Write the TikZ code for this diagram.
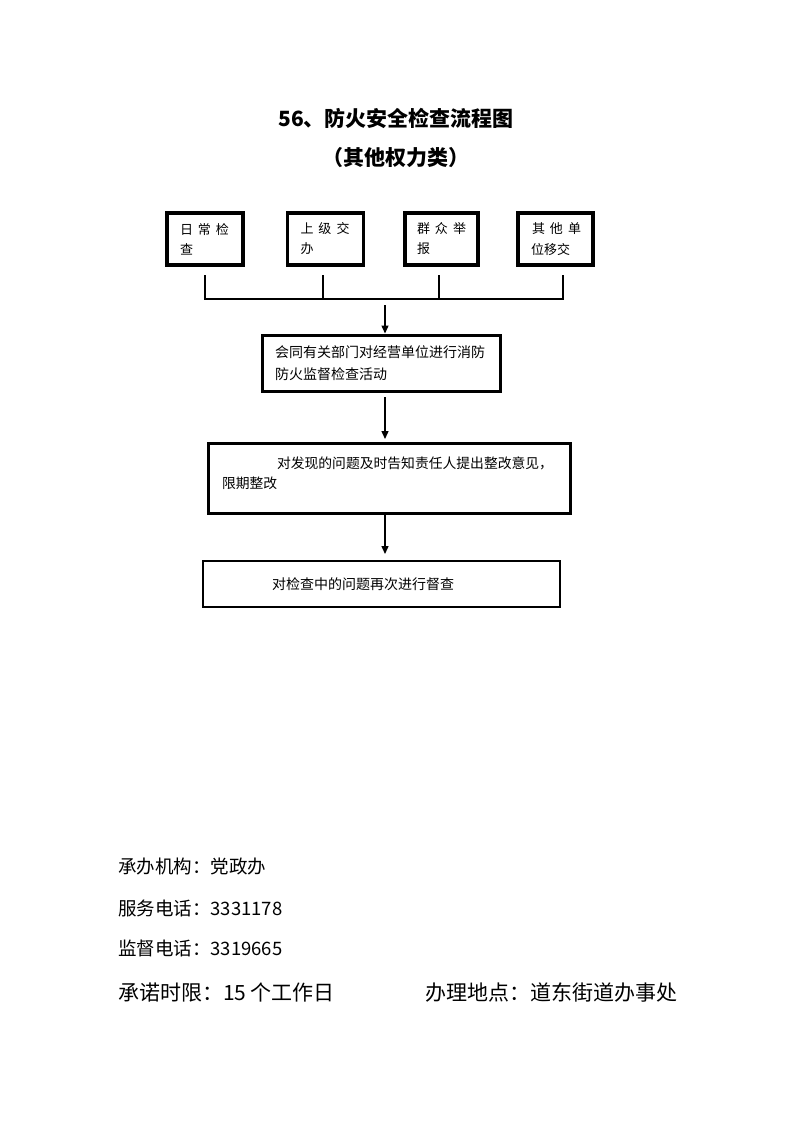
\documentclass[tikz,border=0pt]{standalone}
\usepackage{fontspec}
\setmainfont{Noto Sans CJK SC}
\usetikzlibrary{arrows.meta,calc}
\newcommand{\sgap}{\kern5pt}
\begin{document}
\begin{tikzpicture}[x=1pt,y=-1pt,
  every node/.style={inner sep=0pt, outer sep=0pt},
  srcbox/.style={draw, line width=3.5pt, minimum width=76pt, minimum height=52pt,
    inner xsep=13pt, text width=50pt, align=left, font=\fontsize{13}{20}\selectfont},
  stepbox/.style={draw, line width=3pt, align=left, font=\fontsize{14}{21}\selectfont},
  link/.style={line width=1.4pt},
  arr/.style={line width=1.4pt, -{Triangle[length=8pt,width=7pt]}},
  footer/.style={anchor=west, font=\fontsize{18.5}{20}\selectfont},
  bigfooter/.style={anchor=west, font=\fontsize{21}{22}\selectfont},
  titlestyle/.style={font=\fontsize{21}{22}\selectfont\bfseries}
]
\useasboundingbox[fill=white] (0,0) rectangle (793,1122);

% titles
\node[titlestyle] (title) at (396,118) {56、防火安全检查流程图};
\node[titlestyle] (subtitle) at (396,158) {（其他权力类）};

% source boxes
\node[srcbox] (b1) at (205,239) {日\sgap 常\sgap 检\\查};
\node[srcbox, minimum width=75pt] (b2) at (325.5,239) {上\sgap 级\sgap 交\\办};
\node[srcbox, minimum width=73pt, inner xsep=12pt, text width=49pt] (b3) at (441.5,239) {群\sgap 众\sgap 举\\报};
\node[srcbox, minimum width=75pt, inner xsep=13pt, text width=49pt] (b4) at (555.5,239) {\kern1pt 其\sgap 他\sgap 单\\\kern1pt 位移交};

% step boxes
\node[stepbox, minimum width=238pt, minimum height=56pt, inner xsep=13pt, text width=212pt,
  font=\fontsize{14}{22}\selectfont] (m1) at (381,363)
  {会同有关部门对经营单位进行消防\\防火监督检查活动};
\node[stepbox, minimum width=362pt, minimum height=70pt, inner xsep=14pt, text width=334pt,
  font=\fontsize{13.8}{20}\selectfont] (m2) at (389,478)
  {\hspace*{55pt}对发现的问题及时告知责任人提出整改意见，\\限期整改\\[-10pt]\mbox{}};
\node[stepbox, line width=2.6pt, minimum width=357pt, minimum height=46pt, inner xsep=69pt, text width=219pt] (m3) at (381.5,584)
  {对检查中的问题再次进行督查};

% connectors from sources to bus
\coordinate (t1) at (205,275);
\coordinate (t2) at (323,275);
\coordinate (t3) at (439,275);
\coordinate (t4) at (563,275);
\coordinate (j1) at (205,299);
\coordinate (j4) at (563,299);
\draw[link] (t1) -- (j1) -- (j4) -- (t4);
\draw[link] (t2) -- (t2 |- j1);
\draw[link] (t3) -- (t3 |- j1);

% arrows
\coordinate (a0) at (385,305);
\draw[arr, shorten >=1.5pt] (a0) -- (a0 |- m1.north);
\coordinate (a1) at (385,397);
\draw[arr, shorten >=4pt] (a1) -- (a1 |- m2.north);
\draw[arr, shorten >=7pt] (m2.south -| a1) -- (a1 |- m3.north);

% footer
\node[footer] (f1) at (118,866) {承办机构：党政办};
\node[footer] (f2) at (118,908) {服务电话：3331178};
\node[footer] (f3) at (118,948) {监督电话：3319665};
\node[bigfooter] (f4) at (118,992) {承诺时限：15 个工作日};
\node[bigfooter] (f5) at (425,992) {办理地点：道东街道办事处};
\end{tikzpicture}
\end{document}
